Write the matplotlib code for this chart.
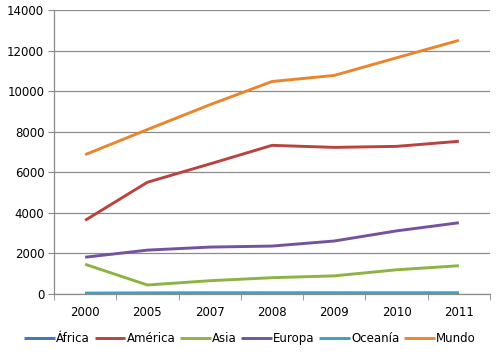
import numpy as np
import matplotlib.pyplot as plt
from matplotlib.ticker import MultipleLocator

# ==========================================================
# DATA
# ==========================================================
years = ['2000', '2005', '2007', '2008', '2009', '2010', '2011']
africa = [10, 15, 20, 20, 20, 20, 20]
america = [3620, 5500, 6400, 7320, 7220, 7270, 7520]
asia = [1450, 430, 640, 790, 880, 1180, 1380]
europa = [1800, 2150, 2300, 2350, 2600, 3100, 3500]
oceania = [30, 40, 45, 45, 45, 45, 45]
mundo = [6860, 8100, 9320, 10470, 10770, 11640, 12500]

series_names = ['África', 'América', 'Asia', 'Europa', 'Oceanía', 'Mundo']
series_values = [africa, america, asia, europa, oceania, mundo]
colors = ['#3F77BA', '#B8433F', '#8DB443', '#74539E', '#3AA3C0', '#EA852E']
# ==========================================================

plt.rcParams['font.family'] = ['DejaVu Sans']

fig = plt.figure(figsize=(5.0, 3.56), dpi=100)
ax = fig.add_axes([0.108, 0.175, 0.872, 0.797])

x = np.arange(len(years))
for name, vals, c in zip(series_names, series_values, colors):
    ax.plot(x, vals, color=c, lw=2.1, label=name, solid_capstyle='butt')

ax.set_xlim(-0.5, len(years) - 0.5)
ax.set_ylim(0, 14000)
ax.yaxis.set_major_locator(MultipleLocator(2000))
ax.grid(axis='y', color='#8c8c8c', lw=0.9)
ax.set_axisbelow(True)

ax.set_xticks(x)
ax.set_xticklabels(years)
ax.set_xticks(np.arange(-0.5, len(years)), minor=True)
ax.tick_params(axis='x', which='major', length=0, pad=9, labelsize=8.5)
ax.tick_params(axis='x', which='minor', length=4, color='#8c8c8c', direction='out')
ax.tick_params(axis='y', length=4, color='#8c8c8c', labelsize=8.5, pad=3)

for s in ['top', 'right']:
    ax.spines[s].set_visible(False)
for s in ['left', 'bottom']:
    ax.spines[s].set_color('#8c8c8c')
    ax.spines[s].set_linewidth(0.9)

fig.legend(loc='lower center', ncol=6, frameon=False, fontsize=8.5,
           handlelength=2.6, handletextpad=0.1, columnspacing=0.4,
           bbox_to_anchor=(0.5, 0.0))

fig.savefig('out.png', dpi=100)
